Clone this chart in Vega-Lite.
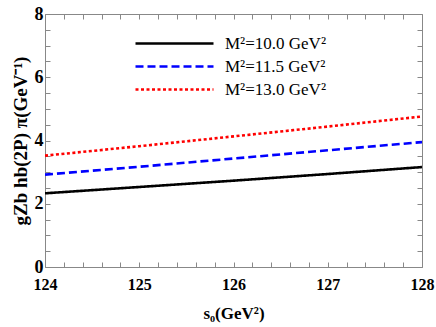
{
  "$schema": "https://vega.github.io/schema/vega-lite/v6.json",
  "width": 377,
  "height": 253,
  "autosize": "none",
  "padding": {"left": 45, "top": 14, "right": 14, "bottom": 60},
  "background": "white",
  "config": {
    "view": {"stroke": "#888888", "strokeWidth": 1},
    "font": "Liberation Serif"
  },
  "data": {
    "values": [
      {"s0": 124, "g": 2.33, "M": "M²=10.0 GeV²"},
      {"s0": 125, "g": 2.53, "M": "M²=10.0 GeV²"},
      {"s0": 126, "g": 2.73, "M": "M²=10.0 GeV²"},
      {"s0": 127, "g": 2.94, "M": "M²=10.0 GeV²"},
      {"s0": 128, "g": 3.16, "M": "M²=10.0 GeV²"},
      {"s0": 124, "g": 2.92, "M": "M²=11.5 GeV²"},
      {"s0": 125, "g": 3.17, "M": "M²=11.5 GeV²"},
      {"s0": 126, "g": 3.43, "M": "M²=11.5 GeV²"},
      {"s0": 127, "g": 3.69, "M": "M²=11.5 GeV²"},
      {"s0": 128, "g": 3.95, "M": "M²=11.5 GeV²"},
      {"s0": 124, "g": 3.52, "M": "M²=13.0 GeV²"},
      {"s0": 125, "g": 3.82, "M": "M²=13.0 GeV²"},
      {"s0": 126, "g": 4.13, "M": "M²=13.0 GeV²"},
      {"s0": 127, "g": 4.44, "M": "M²=13.0 GeV²"},
      {"s0": 128, "g": 4.76, "M": "M²=13.0 GeV²"}
    ]
  },
  "layer": [
    {
      "mark": {"type": "line", "strokeWidth": 2.6, "clip": true},
      "encoding": {
        "x": {
          "field": "s0", "type": "quantitative",
          "scale": {"domain": [124, 128], "nice": false, "zero": false},
          "axis": {
            "orient": "bottom",
            "title": "s₀(GeV²)",
            "titleFont": "Liberation Serif", "titleFontSize": 17, "titleFontWeight": "bold", "titleColor": "black",
            "titlePadding": 13,
            "values": [124,124.2,124.4,124.6,124.8,125,125.2,125.4,125.6,125.8,126,126.2,126.4,126.6,126.8,127,127.2,127.4,127.6,127.8,128],
            "labelExpr": "datum.value % 1 === 0 ? format(datum.value, 'd') : ''",
            "labelFont": "Liberation Serif", "labelFontSize": 16, "labelFontWeight": "bold", "labelColor": "black",
            "labelPadding": 14, "labelFlush": false, "labelOverlap": false,
            "grid": false, "domain": false,
            "tickColor": "#888888",
            "tickSize": -5
          }
        },
        "y": {
          "field": "g", "type": "quantitative",
          "scale": {"domain": [0, 8], "nice": false},
          "axis": {
            "orient": "left",
            "title": "gZb hb(2P) π(GeV⁻¹)",
            "titleFont": "Liberation Serif", "titleFontSize": 19, "titleFontWeight": "bold", "titleColor": "black",
            "titlePadding": 4,
            "values": [0,0.5,1,1.5,2,2.5,3,3.5,4,4.5,5,5.5,6,6.5,7,7.5,8],
            "labelExpr": "datum.value % 2 === 0 ? format(datum.value, 'd') : ''",
            "labelFont": "Liberation Serif", "labelFontSize": 18, "labelFontWeight": "bold", "labelColor": "black",
            "labelPadding": 7, "labelFlush": false, "labelOverlap": false,
            "grid": false, "domain": false,
            "tickColor": "#888888",
            "tickSize": -5
          }
        },
        "color": {
          "field": "M", "type": "nominal",
          "scale": {"domain": ["M²=10.0 GeV²", "M²=11.5 GeV²", "M²=13.0 GeV²"], "range": ["#000000", "#0000ff", "#ff0000"]},
          "legend": {
            "title": null,
            "orient": "none",
            "legendX": 115,
            "legendY": 15,
            "symbolType": "M-3,0H3",
            "symbolSize": 676,
            "symbolStrokeWidth": 2.6,
            "labelFont": "Liberation Serif",
            "labelFontSize": 17,
            "labelColor": "black",
            "labelOffset": 36,
            "rowPadding": 0
          }
        },
        "strokeDash": {
          "field": "M", "type": "nominal",
          "scale": {"domain": ["M²=10.0 GeV²", "M²=11.5 GeV²", "M²=13.0 GeV²"], "range": [[1, 0], [8, 4], [3, 2.5]]},
          "legend": {
            "title": null,
            "orient": "none",
            "legendX": 115,
            "legendY": 15,
            "symbolType": "M-3,0H3",
            "symbolSize": 676,
            "symbolStrokeWidth": 2.6,
            "labelFont": "Liberation Serif",
            "labelFontSize": 17,
            "labelColor": "black",
            "labelOffset": 36,
            "rowPadding": 0
          }
        }
      }
    },
    {
      "mark": {"type": "line", "opacity": 0},
      "encoding": {
        "x": {
          "field": "s0", "type": "quantitative",
          "axis": {
            "orient": "top", "title": null, "labels": false, "grid": false, "domain": false,
            "values": [124,124.2,124.4,124.6,124.8,125,125.2,125.4,125.6,125.8,126,126.2,126.4,126.6,126.8,127,127.2,127.4,127.6,127.8,128],
            "tickColor": "#888888",
            "tickSize": -5
          }
        },
        "y": {
          "field": "g", "type": "quantitative",
          "axis": {
            "orient": "right", "title": null, "labels": false, "grid": false, "domain": false,
            "values": [0,0.5,1,1.5,2,2.5,3,3.5,4,4.5,5,5.5,6,6.5,7,7.5,8],
            "tickColor": "#888888",
            "tickSize": -5
          }
        },
        "detail": {"field": "M", "type": "nominal"}
      }
    }
  ],
  "resolve": {"axis": {"x": "independent", "y": "independent"}}
}
